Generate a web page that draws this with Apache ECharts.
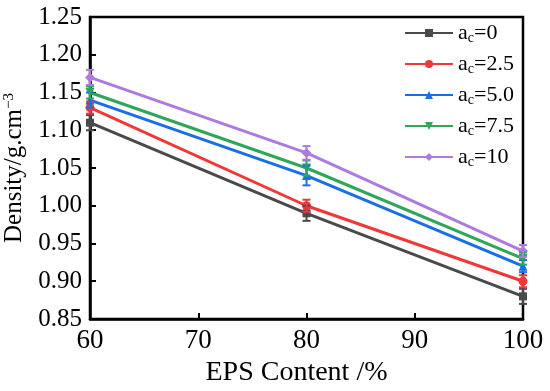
<!DOCTYPE html>
<html><head><meta charset="utf-8">
<script src="https://cdn.jsdelivr.net/npm/echarts@6/dist/echarts.min.js"></script>
<style>html,body{margin:0;padding:0;background:#fff}#c{width:550px;height:391px}</style>
</head><body><div id="c"></div>
<script>
var xVals = [60, 80, 100];
var seriesNames = ['0', '2.5', '5.0', '7.5', '10'];
var ac0 = [1.11, 0.99, 0.88];
var ac25 = [1.13, 1.00, 0.90];
var ac50 = [1.14, 1.04, 0.92];
var ac75 = [1.15, 1.05, 0.93];
var ac10 = [1.17, 1.07, 0.94];
var err0 = [0.010, 0.010, 0.010];
var err25 = [0.008, 0.008, 0.008];
var err50 = [0.010, 0.013, 0.008];
var err75 = [0.008, 0.010, 0.008];
var err10 = [0.010, 0.009, 0.008];
var yTicks = [0.85, 0.90, 0.95, 1.00, 1.05, 1.10, 1.15, 1.20, 1.25];
var xTicks = [60, 70, 80, 90, 100];

var values = [ac0, ac25, ac50, ac75, ac10];
var errs = [err0, err25, err50, err75, err10];
var colors = ['#4a4a4a', '#f03838', '#1c6ee6', '#2fa65a', '#ad7ae0'];
var symbols = ['rect', 'circle', 'triangle', 'path://M-1,-1 L1,-1 L0,1 Z', 'diamond'];
var symSizes = [8, 9, 9, 9, 10];
var FONT = '"Liberation Serif", "Times New Roman", serif';

var series = [];
values.forEach(function (v, i) {
  series.push({
    name: seriesNames[i], type: 'line',
    data: xVals.map(function (x, j) { return [x, v[j]]; }),
    symbol: symbols[i], symbolSize: symSizes[i],
    lineStyle: { width: 3, color: colors[i] },
    itemStyle: { color: colors[i] }, z: 3
  });
  series.push({
    name: seriesNames[i], type: 'custom',
    data: xVals.map(function (x, j) { return [x, v[j] - errs[i][j], v[j] + errs[i][j]]; }),
    renderItem: function (params, api) {
      var lo = api.coord([api.value(0), api.value(1)]);
      var hi = api.coord([api.value(0), api.value(2)]);
      var w = 4;
      var st = { stroke: colors[i], lineWidth: 2 };
      return { type: 'group', children: [
        { type: 'line', shape: { x1: hi[0], y1: hi[1], x2: lo[0], y2: lo[1] }, style: st },
        { type: 'line', shape: { x1: hi[0] - w, y1: hi[1], x2: hi[0] + w, y2: hi[1] }, style: st },
        { type: 'line', shape: { x1: lo[0] - w, y1: lo[1], x2: lo[0] + w, y2: lo[1] }, style: st }
      ]};
    },
    z: 4, silent: true
  });
});

var chart = echarts.init(document.getElementById('c'));
chart.setOption({
  animation: false,
  backgroundColor: '#fff',
  textStyle: { fontFamily: FONT },
  grid: { left: 90, right: 27, top: 17, bottom: 72, containLabel: false, outerBoundsMode: 'none',
    show: true, borderColor: '#000', borderWidth: 2.5, backgroundColor: 'transparent' },
  legend: {
    data: seriesNames.slice(),
    orient: 'vertical', left: 399, top: 17, itemGap: 7.5,
    itemWidth: 48, itemHeight: 10,
    formatter: function (n) { return '{a|a}{s|c}{a|=' + n + '}'; },
    textStyle: {
      fontFamily: FONT, color: '#000',
      rich: {
        a: { fontSize: 22, fontFamily: FONT, color: '#000' },
        s: { fontSize: 14, fontFamily: FONT, color: '#000', verticalAlign: 'bottom', padding: [11, 0, 0, 0] }
      }
    }
  },
  xAxis: {
    type: 'value', min: 60, max: 100, interval: 10,
    name: 'EPS Content /%', nameLocation: 'middle', nameGap: 32,
    nameTextStyle: { fontFamily: FONT, fontSize: 28, color: '#000', padding: [0, 20, 0, 0] },
    axisLine: { lineStyle: { color: '#000', width: 2.5 } },
    axisTick: { inside: true, length: 6, lineStyle: { color: '#000', width: 2 } },
    axisLabel: { fontFamily: FONT, fontSize: 27, color: '#000', margin: 8 },
    splitLine: { show: false }
  },
  yAxis: {
    type: 'value', min: 0.85, max: 1.25, interval: 0.05,
    name: '{n|Density/g.cm}{p|−3}', nameLocation: 'middle', nameGap: 57, nameRotate: 90,
    nameTextStyle: {
      fontFamily: FONT, color: '#000',
      rich: {
        n: { fontSize: 25, fontFamily: FONT, color: '#000' },
        p: { fontSize: 15, fontFamily: FONT, color: '#000', verticalAlign: 'top', padding: [0, 0, 12, 0] }
      }
    },
    axisLine: { lineStyle: { color: '#000', width: 2.5 } },
    axisTick: { inside: true, length: 6, lineStyle: { color: '#000', width: 2 } },
    axisLabel: { fontFamily: FONT, fontSize: 25, color: '#000', margin: 8,
      formatter: function (v) { return v.toFixed(2); } },
    splitLine: { show: false }
  },
  series: series
});
</script></body></html>
